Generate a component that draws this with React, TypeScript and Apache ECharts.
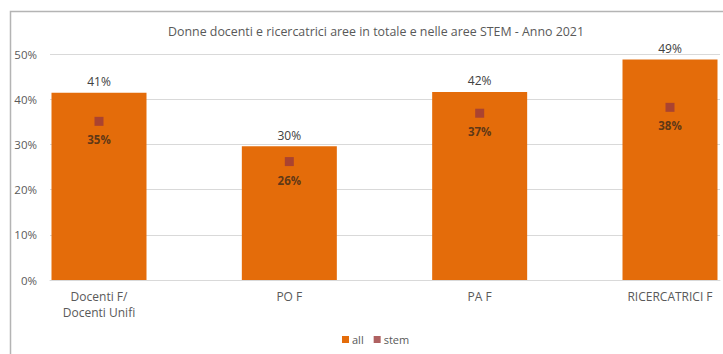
import React, { useEffect, useRef } from "react";
import * as echarts from "echarts";

const categories = ["Docenti F/\nDocenti Unifi", "PO F", "PA F", "RICERCATRICI F"];
const allValues = [0.414, 0.296, 0.416, 0.488];
const stemValues = [0.351, 0.262, 0.369, 0.382];
const titleText = "Donne docenti e ricercatrici aree in totale e nelle aree STEM - Anno 2021";

const FONT = "'Open Sans', 'Noto Sans', sans-serif";
const pct = (v: number) => Math.round(v * 100) + "%";

export default function App() {
  const ref = useRef<HTMLDivElement>(null);
  useEffect(() => {
    const chart = echarts.init(ref.current!, null, { renderer: "svg" });
    const top = 54;
    const bottom = 354 - 280;
    chart.setOption({
      animation: false,
      backgroundColor: "#ffffff",
      textStyle: { fontFamily: FONT },
      title: {
        text: titleText,
        left: 371,
        textAlign: "center",
        top: 20,
        textStyle: { fontSize: 12.4, fontWeight: "normal", color: "#595959", fontFamily: FONT },
      },
      legend: {
        bottom: 4,
        left: 337,
        itemWidth: 7,
        itemHeight: 7,
        itemGap: 10,
        textStyle: { fontSize: 11, color: "#595959", fontFamily: FONT, padding: [0, 0, 0, -2] },
        data: [
          { name: "all", icon: "rect" },
          { name: "stem", icon: "rect" },
        ],
      },
      graphic: [
        {
          type: "rect",
          shape: { x: 10.5, y: 11.5, width: 800, height: 400 },
          style: { fill: "none", stroke: "#b4b4b4", lineWidth: 1.5 },
          silent: true,
          z: 100,
        },
      ],
      grid: [
        { left: 50, right: 3, top, bottom },
        { left: 99, right: 53, top, bottom },
      ],
      xAxis: [
        {
          type: "category",
          gridIndex: 0,
          data: categories,
          axisLine: { show: true, lineStyle: { color: "#d9d9d9", width: 1 } },
          axisTick: { show: false },
          axisLabel: { show: false },
        },
        {
          type: "category",
          gridIndex: 1,
          data: categories,
          boundaryGap: false,
          axisLine: { show: false },
          axisTick: { show: false },
          axisLabel: {
            margin: 8,
            fontSize: 12,
            lineHeight: 16,
            color: "#595959",
            fontFamily: FONT,
            interval: 0,
          },
        },
      ],
      yAxis: [
        {
          type: "value",
          gridIndex: 0,
          min: 0,
          max: 0.5,
          interval: 0.1,
          axisLine: { show: false },
          axisTick: { show: false },
          splitLine: { lineStyle: { color: "#d9d9d9", width: 1 } },
          axisLabel: {
            margin: 13,
            fontSize: 11.5,
            color: "#595959",
            fontFamily: FONT,
            formatter: (v: number) => pct(v),
          },
        },
        {
          type: "value",
          gridIndex: 1,
          min: 0,
          max: 0.5,
          interval: 0.1,
          show: false,
          splitLine: { show: false },
        },
      ],
      series: [
        {
          name: "all",
          type: "bar",
          xAxisIndex: 1,
          yAxisIndex: 1,
          data: allValues,
          barWidth: 95,
          itemStyle: { color: "#e46c0a" },
          label: {
            show: true,
            position: "top",
            distance: 5,
            fontSize: 12,
            color: "#404040",
            fontFamily: FONT,
            formatter: (p: any) => pct(p.value),
          },
          z: 2,
        },
        {
          name: "stem",
          type: "scatter",
          xAxisIndex: 1,
          yAxisIndex: 1,
          data: stemValues,
          symbol: "rect",
          symbolSize: 9,
          itemStyle: { color: "#9b3a3a" },
          label: {
            show: true,
            position: "bottom",
            distance: 8,
            fontSize: 11.5,
            fontWeight: "bold",
            color: "#3a2a1a",
            fontFamily: FONT,
            formatter: (p: any) => pct(p.value),
          },
          z: 3,
        },
      ],
    });
    return () => chart.dispose();
  }, []);
  return <div ref={ref} style={{ position: "fixed", left: 0, top: 0, width: 723, height: 354 }} />;
}
